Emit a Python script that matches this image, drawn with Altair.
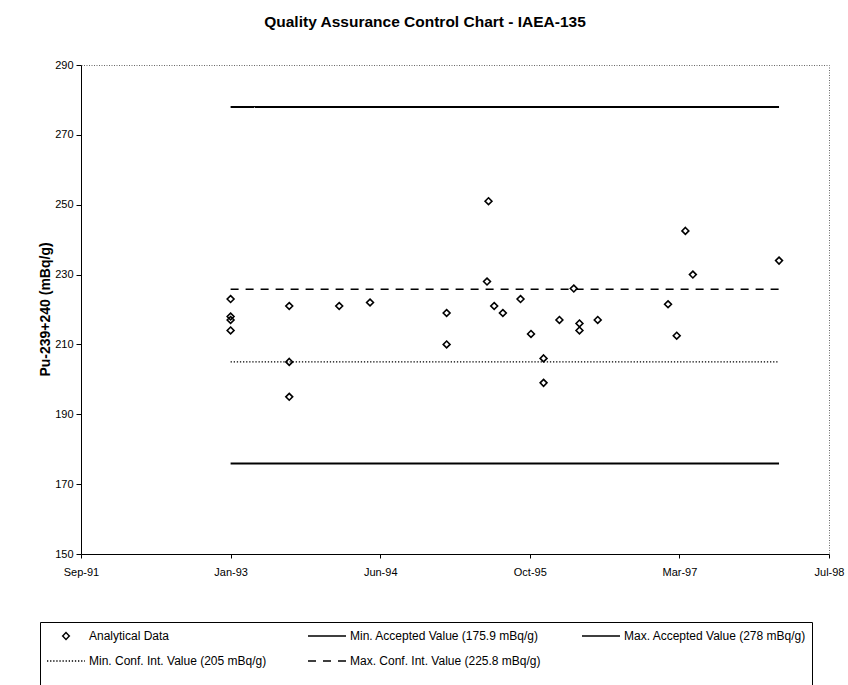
import altair as alt
import pandas as pd

# ---------------- data ----------------
title_text = "Quality Assurance Control Chart - IAEA-135"
y_title = "Pu-239+240 (mBq/g)"

point_dates = [
    "1993-01-31", "1993-01-31", "1993-01-31", "1993-01-31",
    "1993-08-15", "1993-08-15", "1993-08-15",
    "1994-01-29", "1994-05-12",
    "1995-01-23", "1995-01-23",
    "1995-06-07", "1995-06-12", "1995-07-01", "1995-07-30",
    "1995-09-27", "1995-11-01", "1995-12-13", "1995-12-13",
    "1996-02-04", "1996-03-23", "1996-04-11", "1996-04-11",
    "1996-06-11", "1997-02-01", "1997-03-02", "1997-03-31",
    "1997-04-25", "1998-02-07",
]
point_values = [
    223, 218, 217, 214,
    221, 205, 195,
    221, 222,
    219, 210,
    228, 251, 221, 219,
    223, 213, 206, 199,
    217, 226, 216, 214,
    217, 221.5, 212.5, 242.5,
    230, 234,
]

series_names = [
    "Analytical Data",
    "Min. Accepted Value (175.9 mBq/g)",
    "Max. Accepted Value (278 mBq/g)",
    "Min. Conf. Int. Value (205 mBq/g)",
    "Max. Conf. Int. Value (225.8 mBq/g)",
]
line_names = series_names[1:]
line_values = [175.9, 278, 205, 225.8]

x_tick_dates = ["1991-09-19", "1993-01-31", "1994-06-15", "1995-10-28", "1997-03-11", "1998-07-24"]
x_tick_labels = ["Sep-91", "Jan-93", "Jun-94", "Oct-95", "Mar-97", "Jul-98"]
y_ticks = [150, 170, 190, 210, 230, 250, 270, 290]

# ---------------- tables ----------------
pts = pd.DataFrame({"date": point_dates, "value": point_values, "series": series_names[0]})
lines = pd.DataFrame({
    "series": line_names,
    "value": line_values,
    "start": min(point_dates),
    "end": max(point_dates),
})

FONT = "Liberation Sans"

def dt(s):
    t = pd.Timestamp(s)
    return alt.DateTime(year=t.year, month=t.month, date=t.day, utc=True)

tick_ms = [int(pd.Timestamp(s).value // 10**6) for s in x_tick_dates]
label_expr = "[" + ",".join(f"'{l}'" for l in x_tick_labels) + "][indexof([" + \
    ",".join(str(m) for m in tick_ms) + "], +datum.value)]"

x_scale = alt.Scale(type="utc", domain=[dt(x_tick_dates[0]), dt(x_tick_dates[-1])])
y_scale = alt.Scale(domain=[150, 290], nice=False, zero=False)

x_axis = alt.Axis(values=[dt(s) for s in x_tick_dates], labelExpr=label_expr,
                  grid=False, tickSize=4, labelPadding=8, labelFontSize=11,
                  domainColor="black", tickColor="black", labelColor="black",
                  labelFont=FONT, title=None, labelFlush=False, labelOverlap=False)
y_axis = alt.Axis(values=y_ticks, grid=False, tickSize=5, labelPadding=3, labelFontSize=11,
                  domainColor="black", tickColor="black", labelColor="black", labelFont=FONT,
                  title=y_title, titleFont=FONT, titleFontSize=14, titleFontWeight="bold",
                  titleColor="black", titleX=-36, titleY=244, titleBaseline="middle",
                  titleAngle=270, titleAlign="center")

diamond = "M0,-0.18L0.18,0L0,0.18L-0.18,0Z"
shape_range = [diamond, "stroke", "stroke", "stroke", "stroke"]
dash_range = [[1, 0], [1, 0], [1, 0], [1.3, 1.8], [8, 7]]

points = alt.Chart(pts).mark_point(filled=False, size=1444, strokeWidth=1.6,
                                   color="black", opacity=1).encode(
    x=alt.X("date:T", scale=x_scale, axis=x_axis),
    y=alt.Y("value:Q", scale=y_scale, axis=y_axis),
    shape=alt.Shape("series:N", scale=alt.Scale(domain=series_names, range=shape_range),
                    legend=alt.Legend(title=" ")),
)

rules = alt.Chart(lines).mark_rule(color="black").encode(
    x=alt.X("start:T", scale=x_scale, axis=x_axis),
    x2="end:T",
    y=alt.Y("value:Q", scale=y_scale, axis=y_axis),
    strokeDash=alt.StrokeDash("series:N", scale=alt.Scale(domain=series_names, range=dash_range),
                              legend=alt.Legend(title=" ")),
    strokeWidth=alt.condition(
        "datum.series == '" + line_names[0] + "' || datum.series == '" + line_names[1] + "'",
        alt.value(2), alt.value(1.4)),
)

chart = alt.layer(rules, points).properties(
    width=748, height=489,
    autosize=alt.AutoSizeParams(type="none"),
    padding={"left": 81, "top": 65, "right": 19, "bottom": 131},
    title=alt.TitleParams(title_text, font=FONT, fontSize=15.5, fontWeight="bold",
                          color="black", anchor="middle", dx=-30, offset=17,
                          baseline="alphabetic"),
).configure(
    font=FONT,
    background="white",
).configure_view(
    stroke="#666666", strokeDash=[1, 1.5], strokeWidth=1,
).configure_legend(
    orient="none", legendX=-41, legendY=557, columns=3, direction="horizontal",
    symbolSize=1444, clipHeight=16, symbolStrokeColor="black", symbolStrokeWidth=1.4,
    labelFont=FONT, labelFontSize=12, labelColor="black", labelLimit=400, labelOffset=3,
    strokeColor="black", fillColor="white", padding=6, rowPadding=9, columnPadding=40,
    titleOrient="bottom", titleFontSize=12, titlePadding=10,
)

chart.save("out.html", embed_options={"renderer": "svg", "actions": False})
